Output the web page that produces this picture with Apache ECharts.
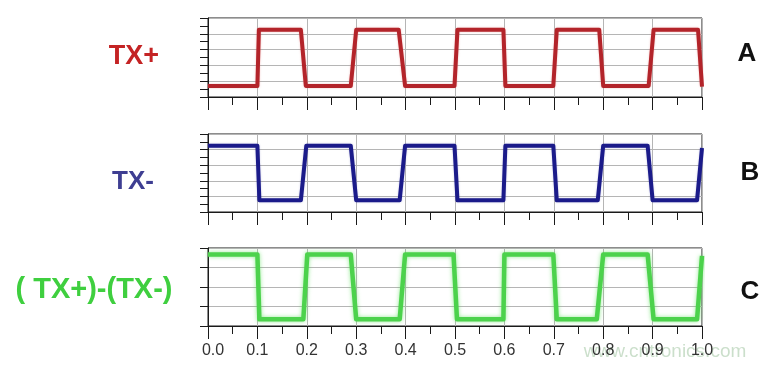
<!DOCTYPE html>
<html>
<head>
<meta charset="utf-8">
<script src="https://cdn.jsdelivr.net/npm/echarts@6/dist/echarts.min.js"></script>
<style>
html,body{margin:0;padding:0;background:#fff;}
#c{width:770px;height:368px;}
</style>
</head>
<body>
<div id="c"></div>
<script>
// ---- data ----
const xTicks = ['0.0','0.1','0.2','0.3','0.4','0.5','0.6','0.7','0.8','0.9','1.0'];

// A: TX+
const txPlusT = [0, 0.100, 0.103, 0.188, 0.198, 0.289, 0.300, 0.386, 0.399, 0.499, 0.505, 0.598, 0.602, 0.699, 0.706, 0.792, 0.800, 0.892, 0.902, 0.992, 1.000];
const txPlusV = [1.4, 1.4, 8.5, 8.5, 1.4, 1.4, 8.5, 8.5, 1.4, 1.4, 8.5, 8.5, 1.4, 1.4, 8.5, 8.5, 1.4, 1.4, 8.5, 8.5, 1.3];

// B: TX-
const txMinusT = [0, 0.100, 0.104, 0.188, 0.199, 0.289, 0.300, 0.388, 0.399, 0.499, 0.505, 0.598, 0.602, 0.699, 0.706, 0.789, 0.800, 0.890, 0.900, 0.990, 1.000];
const txMinusV = [8.5, 8.5, 1.5, 1.5, 8.5, 8.5, 1.5, 1.5, 8.5, 8.5, 1.5, 1.5, 8.5, 8.5, 1.5, 1.5, 8.5, 8.5, 1.5, 1.5, 8.2];

// C: (TX+)-(TX-)
const diffT = [0, 0.100, 0.104, 0.193, 0.201, 0.289, 0.300, 0.388, 0.399, 0.497, 0.504, 0.598, 0.600, 0.699, 0.706, 0.787, 0.800, 0.890, 0.902, 0.990, 1.000];
const diffV = [3.67, 3.67, 0.34, 0.34, 3.67, 3.67, 0.34, 0.34, 3.67, 3.67, 0.34, 0.34, 3.67, 3.67, 0.34, 0.34, 3.67, 3.67, 0.34, 0.34, 3.6];

const leftLabels = ['TX+', 'TX-', '( TX+)-(TX-)'];
const rightLabels = ['A', 'B', 'C'];
const colors = ['#b3242a', '#1b1b8a', '#4cd24c'];
const labelColors = ['#c42324', '#3e3e92', '#3fcf3f'];

// ---- chart ----
const zip = (t, v) => t.map((x, i) => [x, v[i]]);
const chart = echarts.init(document.getElementById('c'), null, {renderer: 'canvas'});

const gridBoxes = [
  {left: 208, top: 18, width: 494, height: 79},
  {left: 208, top: 134, width: 494, height: 78},
  {left: 208, top: 248, width: 494, height: 78}
];
const axisColor = '#1a1a1a';
const gridColor = '#b5b5b5';
const fontFam = 'Liberation Sans, Arial, sans-serif';

const xAxes = gridBoxes.map((g, i) => ({
  type: 'value', gridIndex: i, min: 0, max: 1, interval: 0.1,
  axisLine: {show: true, onZero: false, lineStyle: {color: axisColor, width: 1}},
  axisTick: {show: true, length: 13, lineStyle: {color: axisColor}},
  minorTick: {show: true, splitNumber: 2, length: 8, lineStyle: {color: axisColor}},
  splitLine: {show: true, lineStyle: {color: gridColor, width: 1}},
  axisLabel: {
    show: i === 2, margin: 17, color: '#333', fontSize: 16,
    fontFamily: fontFam,
    formatter: (v) => {
      const idx = Math.round(v * 10);
      const s = xTicks[idx];
      return idx === 0 ? '{f|' + s + '}' : s;
    },
    rich: {f: {padding: [0, 0, 0, 10], fontSize: 16, color: '#333', fontFamily: fontFam}}
  }
}));

const yAxes = gridBoxes.map((g, i) => {
  const isDiff = i === 2;
  return {
    type: 'value', gridIndex: i, min: 0, max: isDiff ? 4 : 10, interval: isDiff ? 1 : 2,
    axisLine: {show: true, lineStyle: {color: axisColor, width: 1}},
    axisTick: {show: true, length: 8, lineStyle: {color: axisColor}},
    minorTick: {show: !isDiff, splitNumber: 2, length: 8, lineStyle: {color: axisColor}},
    splitLine: {show: true, lineStyle: {color: gridColor, width: 1}},
    axisLabel: {show: false}
  };
});

const seriesData = [zip(txPlusT, txPlusV), zip(txMinusT, txMinusV), zip(diffT, diffV)];
const series = seriesData.map((d, i) => ({
  type: 'line', xAxisIndex: i, yAxisIndex: i, data: d,
  showSymbol: false, animation: false, clip: false,
  lineStyle: {
    color: colors[i], width: i === 2 ? 4.5 : 4, join: 'round', cap: 'butt',
    shadowBlur: i === 2 ? 4 : 2,
    shadowColor: i === 2 ? 'rgba(80,220,80,0.6)' : (i === 0 ? 'rgba(230,120,120,0.5)' : 'rgba(60,60,160,0.3)')
  }
}));

const leftPos = [[134, 57], [133, 182], [94, 290]];
const leftSize = [27, 26, 29];
const rightPos = [[747, 54], [750, 173], [750, 292]];
const graphics = [];
leftLabels.forEach((t, i) => graphics.push({
  type: 'text', x: leftPos[i][0], y: leftPos[i][1],
  style: {text: t, fill: labelColors[i], font: 'bold ' + leftSize[i] + 'px ' + fontFam, textAlign: 'center', textVerticalAlign: 'middle'}
}));
rightLabels.forEach((t, i) => graphics.push({
  type: 'text', x: rightPos[i][0], y: rightPos[i][1],
  style: {text: t, fill: '#111', font: 'bold 26px ' + fontFam, textAlign: 'center', textVerticalAlign: 'middle'}
}));
graphics.push({
  type: 'text', x: 665, y: 352, z: -1,
  style: {text: 'www.cntronics.com', fill: 'rgba(140,185,140,0.45)', font: '19px ' + fontFam, textAlign: 'center', textVerticalAlign: 'middle'}
});

chart.setOption({
  animation: false,
  backgroundColor: '#fff',
  grid: gridBoxes.map(g => Object.assign({show: true, borderColor: axisColor, borderWidth: 1, backgroundColor: 'transparent'}, g)),
  xAxis: xAxes,
  yAxis: yAxes,
  series: series,
  graphic: graphics
});
</script>
</body>
</html>
